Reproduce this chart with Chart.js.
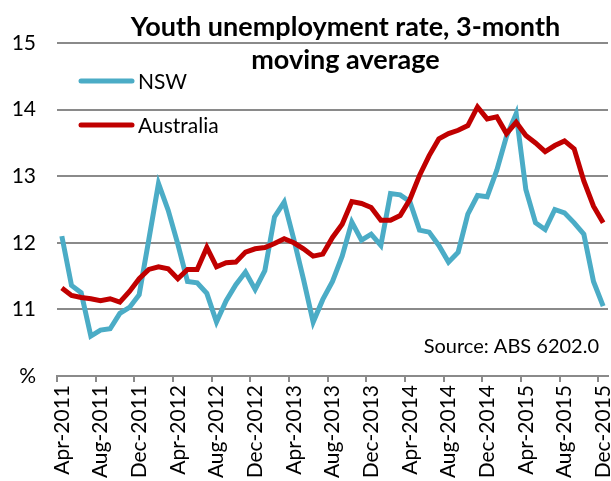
<!DOCTYPE html>
<html>
<head>
<meta charset="utf-8">
<script src="https://cdn.jsdelivr.net/npm/chart.js@4.4.1/dist/chart.umd.min.js"></script>
<style>
    html, body { margin: 0; padding: 0; background: #fff; }
</style>
</head>
<body>
<canvas id="grafico" width="611" height="481"></canvas>
<script>
// months Apr-2011 .. Dec-2015
const monthNames = ['Jan', 'Feb', 'Mar', 'Apr', 'May', 'Jun', 'Jul', 'Aug', 'Sep', 'Oct', 'Nov', 'Dec'];
const categories = [];
for (let i = 0; i < 57; i++) {
    categories.push(monthNames[(3 + i) % 12] + '-' + (2011 + Math.floor((3 + i) / 12)));
}

const nswValues = [
    12.10, 11.36, 11.25, 10.60, 10.69, 10.71, 10.94, 11.03, 11.22, 12.05,
    12.89, 12.49, 11.98, 11.42, 11.40, 11.24, 10.81, 11.13, 11.37, 11.56,
    11.30, 11.58, 12.39, 12.61, 12.05, 11.45, 10.81, 11.15, 11.42, 11.80,
    12.31, 12.04, 12.13, 11.96, 12.74, 12.72, 12.62, 12.19, 12.16, 11.96,
    11.71, 11.86, 12.43, 12.71, 12.69, 13.09, 13.60, 13.94, 12.80, 12.30,
    12.20, 12.50, 12.45, 12.30, 12.13, 11.42, 11.05
];

const australiaValues = [
    11.32, 11.21, 11.18, 11.16, 11.13, 11.16, 11.11, 11.27, 11.46, 11.60,
    11.64, 11.61, 11.46, 11.60, 11.60, 11.93, 11.64, 11.70, 11.71, 11.86,
    11.91, 11.93, 11.99, 12.06, 12.00, 11.91, 11.80, 11.83, 12.08, 12.28,
    12.62, 12.59, 12.53, 12.34, 12.34, 12.41, 12.65, 13.01, 13.31, 13.56,
    13.64, 13.69, 13.76, 14.04, 13.86, 13.89, 13.64, 13.81, 13.61, 13.50,
    13.37, 13.46, 13.53, 13.41, 12.93, 12.55, 12.30
];

const titleLines = ['Youth unemployment rate, 3-month', 'moving average'];
const sourceNote = 'Source: ABS 6202.0';

const GRID = '#8a8a8a';
const FONT = 'Lato, "Open Sans", sans-serif';

// title, legend and source drawn on top of the plot area
const textOverlay = {
    id: 'textOverlay',
    afterDraw(chart) {
        const ctx = chart.ctx;
        const area = chart.chartArea;
        ctx.save();
        ctx.fillStyle = '#000';

        ctx.textAlign = 'center';
        ctx.textBaseline = 'alphabetic';
        ctx.font = 'bold 27px ' + FONT;
        const cx = area.left + area.width / 2 + 13;
        titleLines.forEach(function (t, k) {
            ctx.fillText(t, cx, 36 + k * 33);
        });

        ctx.font = '21px ' + FONT;
        ctx.textAlign = 'left';
        ctx.textBaseline = 'middle';
        chart.data.datasets.forEach(function (ds, k) {
            const y = 81 + k * 44;
            ctx.strokeStyle = ds.borderColor;
            ctx.lineWidth = 5;
            ctx.lineCap = 'round';
            ctx.beginPath();
            ctx.moveTo(area.left + 24, y);
            ctx.lineTo(area.left + 75, y);
            ctx.stroke();
            ctx.fillText(ds.label, area.left + 81, y + 1);
        });

        ctx.textAlign = 'right';
        ctx.textBaseline = 'alphabetic';
        ctx.font = '20px ' + FONT;
        ctx.fillText(sourceNote, area.right - 9, 353);
        ctx.restore();
    }
};

new Chart(document.getElementById('grafico'), {
    type: 'line',
    data: {
        labels: categories,
        datasets: [
            {
                label: 'NSW',
                data: nswValues,
                borderColor: '#4bacc6',
                borderWidth: 5,
                pointRadius: 0,
                order: 1
            },
            {
                label: 'Australia',
                data: australiaValues,
                borderColor: '#c00000',
                borderWidth: 5,
                pointRadius: 0,
                order: 0
            }
        ]
    },
    options: {
        responsive: false,
        animation: false,
        devicePixelRatio: 1,
        layout: {
            padding: { top: 43, right: 3, bottom: 0, left: 0 }
        },
        plugins: {
            legend: { display: false },
            tooltip: { enabled: false },
            title: { display: false }
        },
        scales: {
            x: {
                offset: true,
                border: { display: true, color: GRID, width: 2 },
                grid: {
                    offset: true,
                    drawOnChartArea: false,
                    drawTicks: true,
                    tickLength: 6,
                    lineWidth: 2,
                    color: function (c) {
                        return c.index % 4 === 0 ? GRID : 'rgba(0,0,0,0)';
                    }
                },
                ticks: {
                    autoSkip: false,
                    minRotation: 90,
                    maxRotation: 90,
                    padding: 3,
                    color: '#000',
                    font: { family: FONT, size: 21 },
                    callback: function (value, index) {
                        return index % 4 === 0 ? this.getLabelForValue(value) : '';
                    }
                },
                afterFit: function (scale) {
                    scale.height = 105;
                    scale.paddingLeft = 0;
                    scale.paddingRight = 0;
                }
            },
            y: {
                min: 10,
                max: 15,
                border: { display: false },
                grid: { color: GRID, lineWidth: 2, drawTicks: false },
                ticks: {
                    stepSize: 1,
                    padding: 21,
                    color: '#000',
                    font: { family: FONT, size: 21 },
                    callback: function (value) {
                        return value === 10 ? '%' : value;
                    }
                },
                afterFit: function (scale) {
                    scale.width = 57;
                }
            }
        }
    },
    plugins: [textOverlay]
});
</script>
</body>
</html>
